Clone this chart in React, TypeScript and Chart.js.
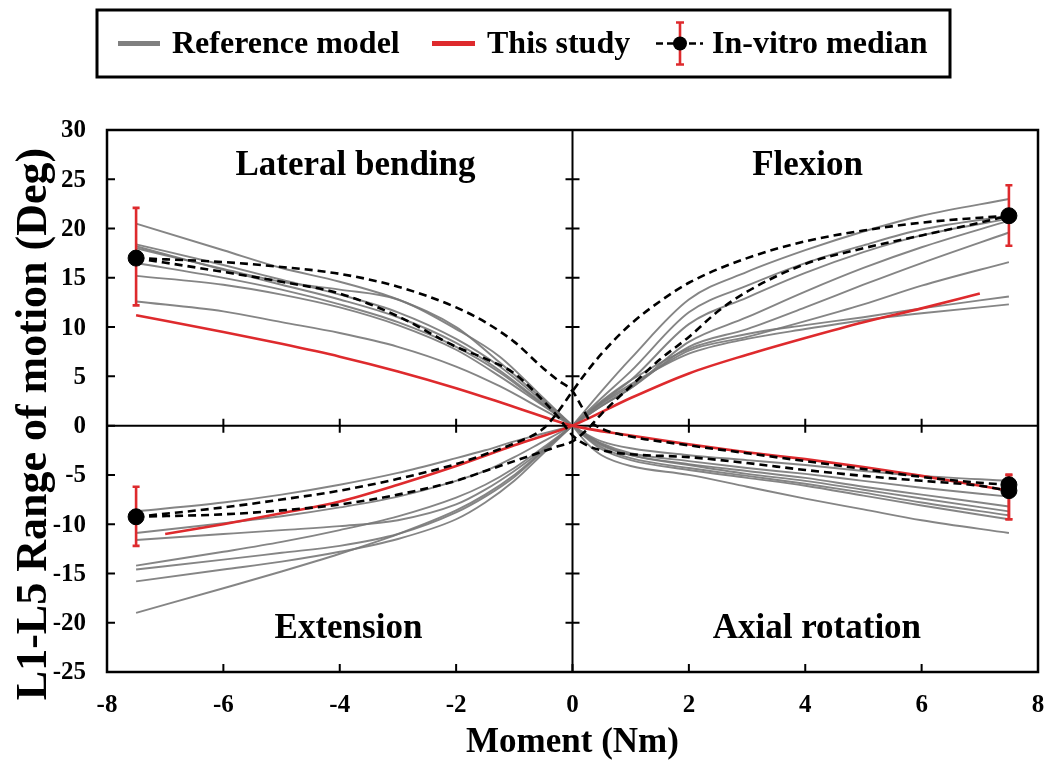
import { useEffect, useRef } from "react";
import { Chart, registerables } from "chart.js";

Chart.register(...registerables);

const SERIF = '"Liberation Serif", "Times New Roman", serif';

const xTicks = [-8, -6, -4, -2, 0, 2, 4, 6, 8];
const yTicks = [-25, -20, -15, -10, -5, 0, 5, 10, 15, 20, 25, 30];

// Lateral bending (negative moment side), reference models
const lbMoment = [-7.5, -6, -5, -4, -3, -2, -1.25, -0.5, 0];
const lbRef = [
  [20.5, 17.8, 16.0, 14.6, 12.8, 10.0, 6.4, 2.6, 0],
  [18.4, 16.3, 14.8, 13.3, 11.5, 8.8, 6.0, 2.4, 0],
  [18.2, 15.8, 14.3, 12.8, 11.0, 8.4, 5.6, 2.2, 0],
  [18.0, 15.9, 14.6, 13.8, 12.8, 9.8, 7.0, 2.8, 0],
  [16.5, 15.0, 13.8, 12.3, 10.5, 8.0, 5.4, 2.1, 0],
  [15.2, 14.3, 13.3, 12.0, 10.2, 7.7, 5.0, 2.0, 0],
  [12.6, 11.6, 10.5, 9.4, 8.0, 6.0, 4.0, 1.6, 0],
];

// Axial rotation (positive moment side), reference models
const arMoment = [0, 0.25, 0.5, 1, 2, 3, 4, 5, 6, 7.5];
const arRef = [
  [0, -0.9, -1.6, -2.3, -3.0, -3.5, -4.0, -4.6, -5.1, -5.6],
  [0, -1.0, -1.8, -2.8, -3.6, -4.3, -4.9, -5.6, -6.3, -7.2],
  [0, -1.1, -2.0, -3.0, -3.9, -4.6, -5.3, -6.2, -7.0, -8.2],
  [0, -1.0, -1.9, -3.0, -4.0, -4.9, -5.6, -6.5, -7.4, -8.7],
  [0, -1.2, -2.2, -3.3, -4.3, -5.1, -5.9, -6.8, -7.8, -9.1],
  [0, -1.3, -2.4, -3.5, -4.5, -5.3, -6.1, -7.1, -8.1, -9.5],
  [0, -1.8, -3.0, -4.1, -5.0, -6.2, -7.4, -8.5, -9.6, -10.9],
];

// Flexion (positive moment side), reference models
const flMoment = [0, 0.5, 1, 2, 3, 4, 5, 6, 7.5];
const flRef = [
  [0, 3.5, 6.8, 12.8, 15.6, 17.8, 19.7, 21.3, 23.0],
  [0, 2.8, 5.5, 11.5, 14.2, 16.5, 18.3, 19.9, 21.3],
  [0, 2.4, 4.6, 10.3, 13.0, 15.5, 17.6, 19.3, 21.0],
  [0, 2.0, 3.8, 8.5, 11.0, 13.6, 16.0, 18.1, 20.8],
  [0, 2.0, 3.8, 8.0, 9.8, 12.0, 14.3, 16.5, 19.6],
  [0, 2.2, 4.0, 7.6, 9.0, 10.6, 12.3, 14.2, 16.6],
  [0, 2.5, 4.6, 7.8, 9.3, 10.2, 11.0, 11.9, 13.1],
  [0, 2.3, 4.2, 7.3, 8.8, 9.8, 10.7, 11.4, 12.3],
];

// Extension (negative moment side), reference models
const exMoment = [-7.5, -6, -5, -4, -3, -2, -1.5, -1, -0.5, 0];
const exRef = [
  [-8.7, -7.8, -7.0, -6.0, -4.8, -3.3, -2.5, -1.6, -0.8, 0],
  [-10.9, -9.9, -9.2, -8.3, -7.2, -5.6, -4.6, -3.2, -1.6, 0],
  [-11.6, -11.0, -10.6, -10.2, -9.6, -8.0, -6.5, -4.6, -2.4, 0],
  [-14.2, -12.8, -11.8, -10.6, -9.2, -7.3, -6.0, -4.3, -2.2, 0],
  [-14.6, -13.6, -12.9, -12.2, -11.0, -8.8, -7.2, -5.2, -2.6, 0],
  [-15.8, -14.6, -13.8, -12.8, -11.5, -9.5, -7.8, -5.6, -2.8, 0],
  [-19.0, -16.5, -14.8, -13.0, -11.0, -8.6, -7.0, -5.0, -2.5, 0],
];

// This study: flexion-extension and lateral bending / axial rotation
const feStudyMoment = [-7, -6, -5, -4, -3, -2, -1, 0, 1, 2, 3, 4, 5, 6, 7];
const feStudy = [-11.0, -10.0, -8.9, -7.7, -6.0, -4.1, -2.0, 0, 2.8, 5.3, 7.2, 8.9, 10.5, 11.9, 13.4];
const lrStudyMoment = [-7.5, -6, -5, -4, -3, -2, -1, 0, 1, 2, 3, 4, 5, 6, 7.4];
const lrStudy = [11.2, 9.5, 8.3, 7.0, 5.5, 3.8, 1.9, 0, -1.0, -1.9, -2.7, -3.4, -4.2, -5.1, -6.5];

// In-vitro median loading curves (two branches each)
const feVitroUpperMoment = [-7.5, -6, -5, -4, -3, -2, -1.5, -1, -0.5, -0.25, 0, 0.25, 0.5, 1, 1.5, 2, 3, 4, 5, 6, 7, 7.5];
const feVitroUpper = [-9.25, -8.3, -7.5, -6.6, -5.4, -3.9, -2.9, -1.8, -0.3, 1.4, 3.5, 5.5, 7.3, 10.3, 12.6, 14.5, 17.0, 18.7, 19.8, 20.6, 21.1, 21.3];
const feVitroLowerMoment = [-7.5, -6, -5, -4, -3, -2, -1.5, -1, -0.5, -0.25, 0, 0.25, 0.5, 1, 1.5, 2, 2.5, 3, 4, 5, 6, 7, 7.5];
const feVitroLower = [-9.25, -9.0, -8.6, -8.0, -7.0, -5.6, -4.6, -3.6, -2.6, -2.1, -1.6, -0.4, 1.2, 4.0, 6.7, 9.0, 11.6, 13.6, 16.4, 18.0, 19.3, 20.6, 21.3];
const lrVitroUpperMoment = [-7.5, -6, -5, -4, -3, -2, -1.5, -1, -0.5, -0.25, 0, 0.15, 0.3, 0.5, 1, 2, 3, 4, 5, 6, 7, 7.5];
const lrVitroUpper = [17, 16.6, 16.1, 15.4, 14.1, 12.0, 10.5, 8.5, 5.8, 4.6, 3.5, 2.0, 0.5, -0.3, -1.1, -2.0, -2.8, -3.6, -4.4, -5.2, -5.8, -6.0];
const lrVitroLowerMoment = [-7.5, -6, -5, -4, -3, -2, -1.5, -1, -0.5, -0.25, 0, 0.25, 0.5, 1, 2, 3, 4, 5, 6, 7, 7.5];
const lrVitroLower = [17, 15.6, 14.6, 13.4, 11.1, 8.0, 6.8, 5.3, 2.5, 0.9, -1.0, -2.0, -2.5, -2.9, -3.2, -3.8, -4.5, -5.1, -5.6, -6.1, -6.6];

// In-vitro medians at the peak moments, with their ranges
const vitroMoment = [-7.5, 7.5, -7.5, 7.5, 7.5];
const vitroMedian = [17.0, 21.3, -9.25, -6.0, -6.6];
const vitroLow = [12.2, 18.25, -12.2, -9.5, -9.5];
const vitroHigh = [22.1, 24.4, -6.2, -5.0, -5.0];

const panelLabels = ["Lateral bending", "Flexion", "Extension", "Axial rotation"];
const panelAnchor = [
  [-3.73, 25.4],
  [4.04, 25.4],
  [-3.85, -21.5],
  [4.2, -21.5],
];
const legendLabels = ["Reference model", "This study", "In-vitro median"];
const xTitle = "Moment (Nm)";
const yTitle = "L1-L5 Range of motion (Deg)";

const GRAY = "rgba(120,120,120,0.9)";
const RED = "#de2a2d";

const pts = (xs: number[], ys: number[]) => xs.map((x, i) => ({ x, y: ys[i] }));

const grayLine = (xs: number[], ys: number[]) => ({
  data: pts(xs, ys),
  borderColor: GRAY,
  borderWidth: 1.9,
  pointRadius: 0,
  cubicInterpolationMode: "monotone" as const,
  order: 4,
});
const redLine = (xs: number[], ys: number[]) => ({
  data: pts(xs, ys),
  borderColor: RED,
  borderWidth: 2.6,
  pointRadius: 0,
  cubicInterpolationMode: "monotone" as const,
  order: 3,
});
const dashLine = (xs: number[], ys: number[]) => ({
  data: pts(xs, ys),
  borderColor: "#000",
  borderWidth: 2.6,
  borderDash: [8, 5],
  pointRadius: 0,
  cubicInterpolationMode: "monotone" as const,
  order: 2,
});

const decorations = {
  id: "decorations",
  beforeDatasetsDraw(chart: any) {
    const { ctx, chartArea: a, scales } = chart;
    const x0 = scales.x.getPixelForValue(0);
    const y0 = scales.y.getPixelForValue(0);
    ctx.save();
    ctx.strokeStyle = "#000";
    ctx.lineWidth = 2;
    ctx.beginPath();
    ctx.moveTo(x0, a.top);
    ctx.lineTo(x0, a.bottom);
    ctx.moveTo(a.left, y0);
    ctx.lineTo(a.right, y0);
    // cross ticks on the centre axes
    yTicks.forEach((v) => {
      const py = scales.y.getPixelForValue(v);
      ctx.moveTo(x0 - 7, py);
      ctx.lineTo(x0 + 7, py);
    });
    xTicks.forEach((v) => {
      const px = scales.x.getPixelForValue(v);
      ctx.moveTo(px, y0 - 7);
      ctx.lineTo(px, y0 + 7);
    });
    ctx.stroke();
    ctx.restore();
  },
  beforeDatasetDraw(chart: any, args: any) {
    if (args.index !== chart.data.datasets.length - 1) return;
    const { ctx, scales } = chart;
    ctx.save();
    ctx.strokeStyle = RED;
    ctx.lineWidth = 2.6;
    vitroMoment.forEach((m, i) => {
      const px = scales.x.getPixelForValue(m);
      const lo = scales.y.getPixelForValue(vitroLow[i]);
      const hi = scales.y.getPixelForValue(vitroHigh[i]);
      ctx.beginPath();
      ctx.moveTo(px, lo);
      ctx.lineTo(px, hi);
      ctx.moveTo(px - 3.5, lo);
      ctx.lineTo(px + 3.5, lo);
      ctx.moveTo(px - 3.5, hi);
      ctx.lineTo(px + 3.5, hi);
      ctx.stroke();
    });
    ctx.restore();
  },
  afterDraw(chart: any) {
    const { ctx, chartArea: a, scales } = chart;
    ctx.save();
    // frame
    ctx.strokeStyle = "#000";
    ctx.lineWidth = 2.5;
    ctx.strokeRect(a.left, a.top, a.right - a.left, a.bottom - a.top);
    // inward ticks on the left and bottom edges
    ctx.lineWidth = 2;
    ctx.beginPath();
    yTicks.forEach((v) => {
      const py = scales.y.getPixelForValue(v);
      ctx.moveTo(a.left, py);
      ctx.lineTo(a.left + 8, py);
    });
    xTicks.forEach((v) => {
      const px = scales.x.getPixelForValue(v);
      ctx.moveTo(px, a.bottom);
      ctx.lineTo(px, a.bottom - 8);
    });
    ctx.stroke();

    ctx.fillStyle = "#000";
    // y tick labels
    ctx.font = `bold 25px ${SERIF}`;
    ctx.textAlign = "right";
    ctx.textBaseline = "middle";
    yTicks.forEach((v) => {
      ctx.fillText(String(v), a.left - 21, scales.y.getPixelForValue(v) + 1);
    });
    // x tick labels
    ctx.font = `bold 25px ${SERIF}`;
    ctx.textAlign = "center";
    ctx.textBaseline = "alphabetic";
    xTicks.forEach((v) => {
      ctx.fillText(String(v), scales.x.getPixelForValue(v), a.bottom + 40);
    });
    // axis titles
    ctx.font = `bold 35px ${SERIF}`;
    ctx.fillText(xTitle, (a.left + a.right) / 2, a.bottom + 80);
    ctx.save();
    ctx.translate(46, 424);
    ctx.rotate(-Math.PI / 2);
    ctx.font = `bold 44px ${SERIF}`;
    ctx.fillText(yTitle, 0, 0);
    ctx.restore();
    // quadrant labels
    ctx.font = `bold 35px ${SERIF}`;
    panelLabels.forEach((t, i) => {
      ctx.fillText(t, scales.x.getPixelForValue(panelAnchor[i][0]), scales.y.getPixelForValue(panelAnchor[i][1]));
    });

    // legend
    const lx = 97, ly = 10, lw = 853, lh = 67;
    ctx.lineWidth = 3;
    ctx.strokeRect(lx, ly, lw, lh);
    const cy = ly + lh / 2;
    ctx.font = `bold 32px ${SERIF}`;
    ctx.textAlign = "left";
    ctx.textBaseline = "middle";
    ctx.lineWidth = 5;
    ctx.strokeStyle = "#808080";
    ctx.beginPath();
    ctx.moveTo(118, cy);
    ctx.lineTo(160, cy);
    ctx.stroke();
    ctx.fillText(legendLabels[0], 172, cy + 1);
    ctx.strokeStyle = RED;
    ctx.beginPath();
    ctx.moveTo(432, cy);
    ctx.lineTo(475, cy);
    ctx.stroke();
    ctx.fillText(legendLabels[1], 487, cy + 1);
    // in-vitro sample: dashes, range bar and marker
    ctx.strokeStyle = "#000";
    ctx.lineWidth = 2.6;
    ctx.setLineDash([7, 4]);
    ctx.beginPath();
    ctx.moveTo(656, cy);
    ctx.lineTo(703, cy);
    ctx.stroke();
    ctx.setLineDash([]);
    ctx.strokeStyle = RED;
    ctx.beginPath();
    ctx.moveTo(680, cy - 21);
    ctx.lineTo(680, cy + 21);
    ctx.moveTo(676, cy - 21);
    ctx.lineTo(684, cy - 21);
    ctx.moveTo(676, cy + 21);
    ctx.lineTo(684, cy + 21);
    ctx.stroke();
    ctx.fillStyle = "#000";
    ctx.beginPath();
    ctx.arc(680, cy, 7, 0, Math.PI * 2);
    ctx.fill();
    ctx.fillText(legendLabels[2], 712, cy + 1);
    ctx.restore();
  },
};

export default function App() {
  const ref = useRef<HTMLCanvasElement | null>(null);
  useEffect(() => {
    if (!ref.current) return;
    const datasets: any[] = [
      ...lbRef.map((ys) => grayLine(lbMoment, ys)),
      ...arRef.map((ys) => grayLine(arMoment, ys)),
      ...flRef.map((ys) => grayLine(flMoment, ys)),
      ...exRef.map((ys) => grayLine(exMoment, ys)),
      redLine(feStudyMoment, feStudy),
      redLine(lrStudyMoment, lrStudy),
      dashLine(feVitroUpperMoment, feVitroUpper),
      dashLine(feVitroLowerMoment, feVitroLower),
      dashLine(lrVitroUpperMoment, lrVitroUpper),
      dashLine(lrVitroLowerMoment, lrVitroLower),
      {
        type: "scatter",
        data: pts(vitroMoment, vitroMedian),
        showLine: false,
        pointRadius: 8,
        pointBackgroundColor: "#000",
        pointBorderColor: "#000",
        order: 0,
      },
    ];
    const chart = new Chart(ref.current, {
      type: "line",
      data: { datasets },
      options: {
        animation: false,
        responsive: false,
        events: [],
        layout: { padding: { left: 107, right: 10, top: 130, bottom: 93 } },
        scales: {
          x: { type: "linear", min: -8, max: 8, display: false },
          y: { type: "linear", min: -25, max: 30, display: false },
        },
        plugins: { legend: { display: false }, tooltip: { enabled: false } },
      },
      plugins: [decorations],
    });
    return () => chart.destroy();
  }, []);
  return (
    <div style={{ position: "fixed", left: 0, top: 0, width: 1048, height: 765, background: "#fff" }}>
      <canvas ref={ref} width={1048} height={765} />
    </div>
  );
}
